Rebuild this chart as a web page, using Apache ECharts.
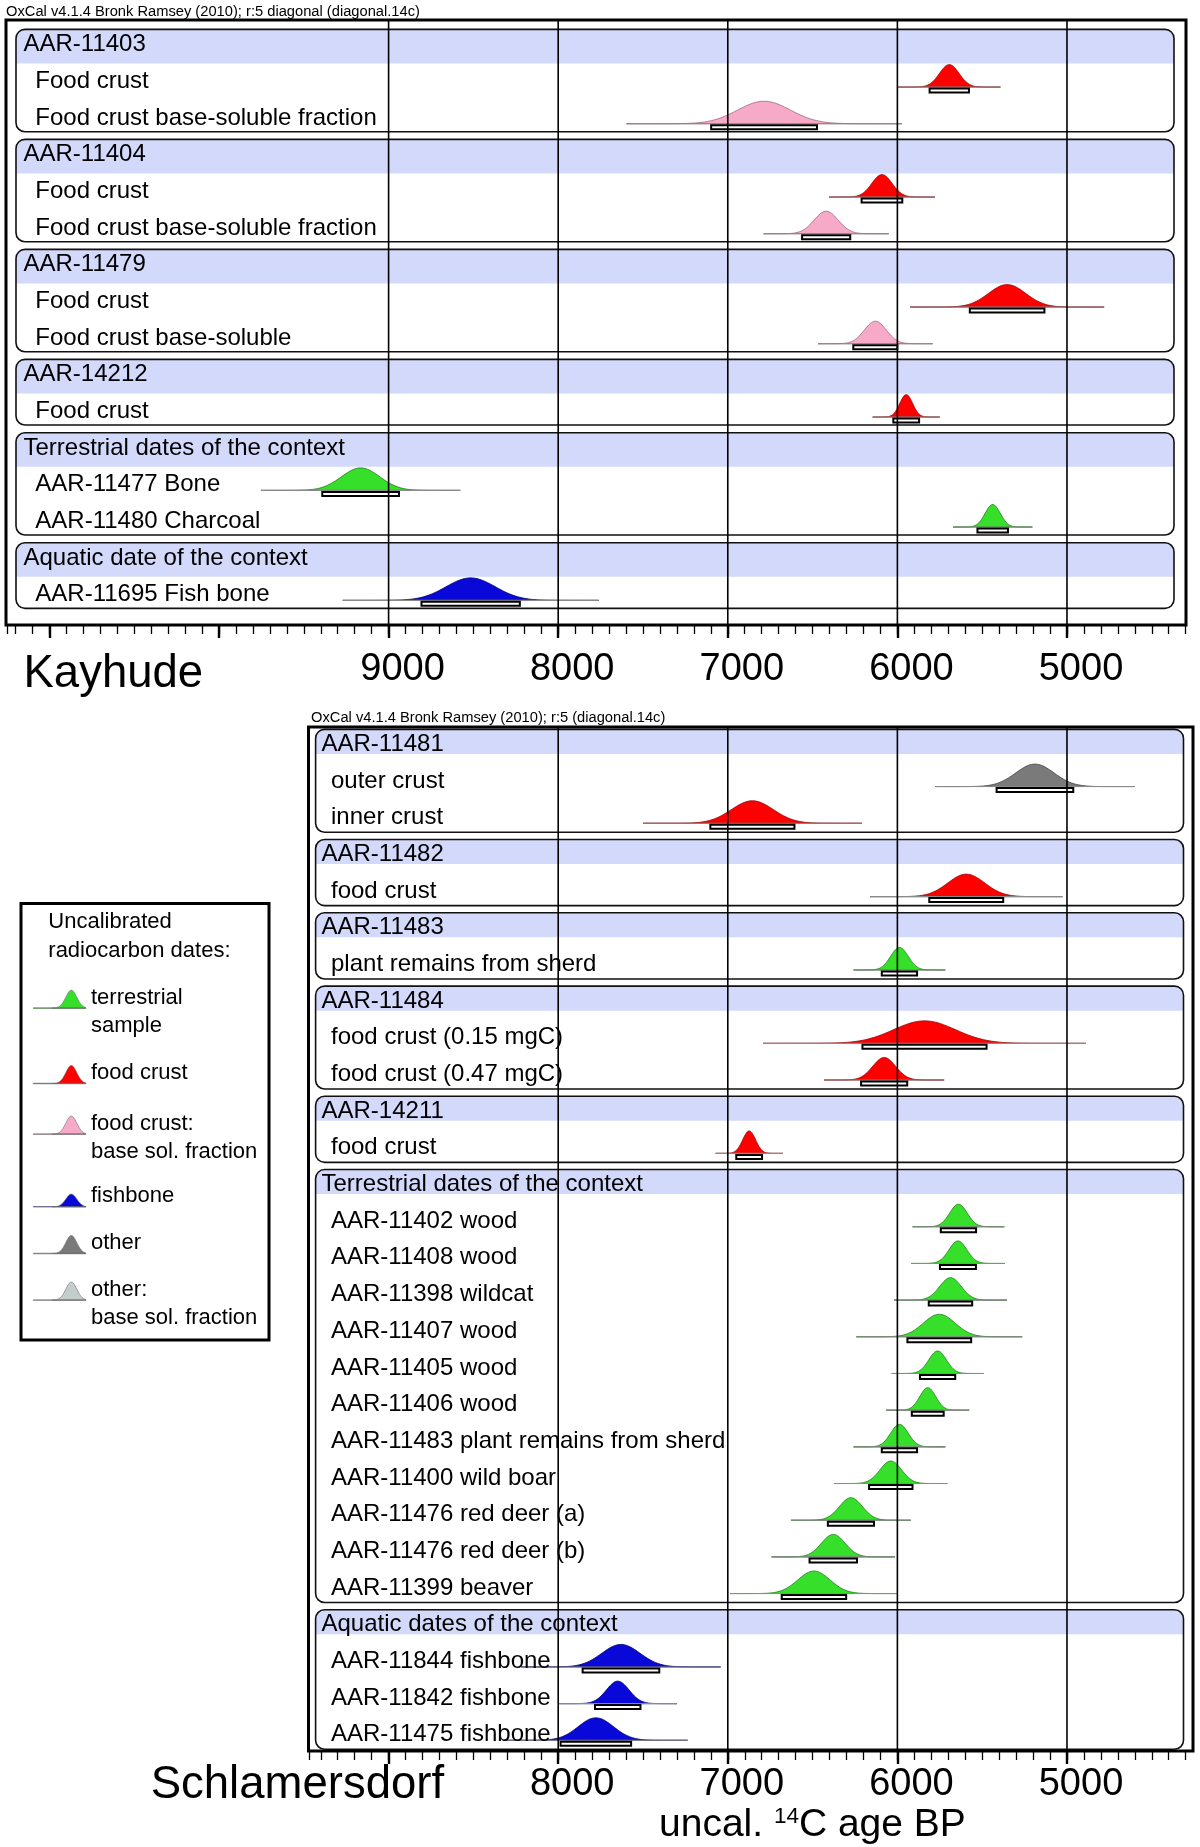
<!DOCTYPE html>
<html><head><meta charset="utf-8">
<script src="https://cdn.jsdelivr.net/npm/echarts@6/dist/echarts.min.js"></script>
<style>html,body{margin:0;padding:0;background:#fff}#c{width:1200px;height:1847px}</style>
</head><body><div id="c"></div>
<script>
// ---------- DATA ----------
const typeKeys = ['terrestrial', 'food crust', 'food crust: base sol.', 'fishbone', 'other', 'other: base sol.'];
const typeLegendText = ['terrestrial\nsample', 'food crust', 'food crust:\nbase sol. fraction', 'fishbone', 'other', 'other:\nbase sol. fraction'];

const topGroupTitles = ['AAR-11403', 'AAR-11404', 'AAR-11479', 'AAR-14212', 'Terrestrial dates of the context', 'Aquatic date of the context'];
const topItemLabels = [
  ['Food crust', 'Food crust base-soluble fraction'],
  ['Food crust', 'Food crust base-soluble fraction'],
  ['Food crust', 'Food crust base-soluble'],
  ['Food crust'],
  ['AAR-11477 Bone', 'AAR-11480 Charcoal'],
  ['AAR-11695 Fish bone']
];
const topItemTypes = [[1, 2], [1, 2], [1, 2], [1], [0, 0], [3]];
const topItemMeans = [[5694, 6786], [6091, 6420], [5353, 6130], [5948], [9165, 5438], [8516]];
const topItemSigmas = [[58, 156], [60, 71], [110, 65], [38], [113, 45], [145]];

const botGroupTitles = ['AAR-11481', 'AAR-11482', 'AAR-11483', 'AAR-11484', 'AAR-14211', 'Terrestrial dates of the context', 'Aquatic dates of the context'];
const botItemLabels = [
  ['outer crust', 'inner crust'],
  ['food crust'],
  ['plant remains from sherd'],
  ['food crust (0.15 mgC)', 'food crust (0.47 mgC)'],
  ['food crust'],
  ['AAR-11402 wood', 'AAR-11408 wood', 'AAR-11398 wildcat', 'AAR-11407 wood', 'AAR-11405 wood', 'AAR-11406 wood',
   'AAR-11483 plant remains from sherd', 'AAR-11400 wild boar', 'AAR-11476 red deer (a)', 'AAR-11476 red deer (b)', 'AAR-11399 beaver'],
  ['AAR-11844 fishbone', 'AAR-11842 fishbone', 'AAR-11475 fishbone']
];
const botItemTypes = [[4, 1], [1], [0], [1, 1], [1], [0, 0, 0, 0, 0, 0, 0, 0, 0, 0, 0], [3, 3, 3]];
const botItemMeans = [[5189, 6855], [5594], [5988], [5840, 6078], [6874],
  [5640, 5643, 5687, 5753, 5763, 5821, 5988, 6039, 6274, 6378, 6492], [7630, 7649, 7778]];
const botItemSigmas = [[113, 124], [109], [52], [183, 68], [38],
  [52, 53, 64, 94, 52, 47, 52, 64, 68, 70, 95], [113, 67, 104]];

const topGridYears = [9000, 8000, 7000, 6000, 5000];
const botGridYears = [8000, 7000, 6000, 5000];
const topLabelYears = [9000, 8000, 7000, 6000, 5000];
const botLabelYears = [8000, 7000, 6000, 5000];

// ---------- STYLE ----------
const FF = '"Liberation Sans", Arial, sans-serif';
const typeFill = ['#36e02a', '#ff0000', '#f7aac8', '#0808d8', '#7a7a7a', '#c4cccc'];
const typeEdge = ['#1c7a14', '#9a0000', '#9a6a80', '#00006a', '#404040', '#80888a'];
const legendPeak = [18, 18, 18, 12.7, 18, 18];
const BAND = '#d3d9fa';
const PEAK = 22.5, BASE_OFF = 8, SPAN = 5.2, TEXT_DY = 2.4;

function buildPanel(titles, labels, types, means, sigmas) {
  const rowText = [], rowHdr = [], spans = [], dates = typeKeys.map(() => []);
  titles.forEach((t, g) => {
    const s = rowText.length;
    rowText.push(t); rowHdr.push(1);
    labels[g].forEach((lab, i) => {
      const r = rowText.length;
      rowText.push(lab); rowHdr.push(0);
      dates[types[g][i]].push([means[g][i], sigmas[g][i], r]);
    });
    spans.push([s, rowText.length - 1]);
  });
  return { rowText, rowHdr, spans, dates };
}
const topP = buildPanel(topGroupTitles, topItemLabels, topItemTypes, topItemMeans, topItemSigmas);
const botP = buildPanel(botGroupTitles, botItemLabels, botItemTypes, botItemMeans, botItemSigmas);

function bandRender(cfg) {
  return function (params, api) {
    const cs = params.coordSys;
    const s = api.value(0), e = api.value(1);
    const yS = api.coord([6000, s])[1], yE = api.coord([6000, e])[1];
    const x0 = cs.x + cfg.inL, x1 = cs.x + cs.width - cfg.inR;
    const top = yS - cfg.boxTop, bot = yE + cfg.boxBot, bb = yS + cfg.bandBot;
    return { type: 'group', children: [
      { type: 'rect', shape: { x: x0, y: top, width: x1 - x0, height: bb - top, r: [9, 9, 0, 0] }, style: { fill: BAND } },
      { type: 'rect', shape: { x: x0, y: top, width: x1 - x0, height: bot - top, r: 9 }, style: { fill: 'none', stroke: '#111', lineWidth: 1.6 } }
    ] };
  };
}
function dateRender(t) {
  return function (params, api) {
    const m = api.value(0), s = api.value(1), r = api.value(2);
    const base = api.coord([m, r])[1] + BASE_OFF;
    const pts = [];
    for (let k = 0; k <= 120; k++) {
      const z = -SPAN + 2 * SPAN * k / 120;
      pts.push([api.coord([m + z * s, r])[0], base - PEAK * Math.exp(-z * z / 2)]);
    }
    const xa = api.coord([m + SPAN * s, r])[0], xb = api.coord([m - SPAN * s, r])[0];
    const b1 = api.coord([m + 2 * s, r])[0], b2 = api.coord([m - 2 * s, r])[0];
    return { type: 'group', children: [
      { type: 'polygon', shape: { points: pts }, style: { fill: typeFill[t], stroke: typeEdge[t], lineWidth: 0.8 } },
      { type: 'line', shape: { x1: xa, y1: base, x2: xb, y2: base }, style: { stroke: '#8a8a8a', lineWidth: 1.1 } },
      { type: 'rect', shape: { x: b1, y: base + 1.5, width: b2 - b1, height: 4 }, style: { fill: '#fff', stroke: '#000', lineWidth: 2 } }
    ] };
  };
}
function gridRender(params, api) {
  const cs = params.coordSys;
  const x = api.coord([api.value(0), 0])[0];
  return { type: 'line', shape: { x1: x, y1: cs.y, x2: x, y2: cs.y + cs.height }, style: { stroke: '#000', lineWidth: 1.6 } };
}
function textRender(P, hdrIn, itemIn) {
  return function (params, api) {
    const cs = params.coordSys;
    const i = params.dataIndex;
    const y = api.coord([6000, api.value(0)])[1] + TEXT_DY;
    return { type: 'text', style: { text: P.rowText[i], x: cs.x + (P.rowHdr[i] ? hdrIn : itemIn), y: y,
      fill: '#000', fontSize: 24, fontFamily: FF, verticalAlign: 'middle', align: 'left' } };
  };
}

// legend icon: a small Gaussian over a thin baseline, in a W x H box
function legendIconPath(t, H) {
  const W = 52.7, base = 24.9, px = 38, sp = 5.5, h = legendPeak[t];
  let d = `M0,0 M${W},${H} M0,${base - 0.3} L${W},${base - 0.3} L${W},${base + 0.3} L0,${base + 0.3} Z `;
  const pts = [];
  for (let k = 0; k <= 60; k++) {
    const z = -3.5 + 7 * k / 60;
    const x = px + z * sp;
    if (x > W) break;
    pts.push([x, base - h * Math.exp(-z * z / 2)]);
  }
  d += `M${pts[0][0].toFixed(2)},${base} ` + pts.map(p => `L${p[0].toFixed(2)},${p[1].toFixed(2)}`).join(' ') +
       ` L${pts[pts.length - 1][0].toFixed(2)},${base} Z`;
  return 'path://' + d;
}
const LH = 28.8;
const legendFirstLineY = [997.3, 1072.7, 1123.3, 1196, 1242.7, 1289.3];

// ---------- OPTION ----------
const minorTick = { show: true, length: 9, lineStyle: { color: '#000', width: 1.3 } };
const majorTick = { show: true, length: 13, lineStyle: { color: '#000', width: 2.4 } };

const series = [];
const panels = [
  { P: topP, ax: 0, band: { inL: 9, inR: 11.7, boxTop: 13, bandBot: 21, boxBot: 16 }, grid: topGridYears, hdr: 16.5, item: 28.3 },
  { P: botP, ax: 2, band: { inL: 6.7, inR: 2.2, boxTop: 12.5, bandBot: 12, boxBot: 17 }, grid: botGridYears, hdr: 12.6, item: 22.1 }
];
panels.forEach(pn => {
  series.push({ type: 'custom', xAxisIndex: pn.ax, yAxisIndex: pn.ax, z: 1, silent: true,
    data: pn.P.spans, renderItem: bandRender(pn.band) });
  pn.P.dates.forEach((arr, t) => {
    series.push({ type: 'custom', name: typeKeys[t], xAxisIndex: pn.ax, yAxisIndex: pn.ax, z: 2, silent: true,
      itemStyle: { color: typeFill[t] }, encode: { x: 0, y: 2 }, data: arr, renderItem: dateRender(t) });
  });
  series.push({ type: 'custom', xAxisIndex: pn.ax, yAxisIndex: pn.ax, z: 3, silent: true,
    encode: { x: 0 }, data: pn.grid.map(v => [v]), renderItem: gridRender });
  series.push({ type: 'custom', xAxisIndex: pn.ax, yAxisIndex: pn.ax, z: 4, silent: true,
    encode: { y: 0 }, data: pn.P.rowText.map((_, i) => [i]), renderItem: textRender(pn.P, pn.hdr, pn.item) });
});

const legends = typeKeys.map((k, t) => {
  const lines = typeLegendText[t].split('\n').length;
  const H = LH * lines;
  return {
    data: [{ name: k, icon: legendIconPath(t, H) }],
    left: 33, top: legendFirstLineY[t] - LH / 2, orient: 'vertical', padding: 0, itemGap: 0,
    itemWidth: 52.7, itemHeight: H, selectedMode: false,
    formatter: () => typeLegendText[t],
    itemStyle: { borderColor: '#6a6a6a', borderWidth: 0.6 },
    textStyle: { fontSize: 22, fontFamily: FF, color: '#000', lineHeight: LH }
  };
});

const labelStyle = (years, margin) => ({
  show: true, fontSize: 38, fontFamily: FF, color: '#000', margin: margin, padding: [0, 0, 0, 28],
  formatter: v => (years.indexOf(v) >= 0 ? String(v) : '')
});
const noLine = { show: false, onZero: false };

const option = {
  animation: false,
  backgroundColor: '#fff',
  grid: [
    { left: 7.0, width: 1178.7, top: 20, height: 605 },
    { left: 49.4, width: 1017.6, top: 600, height: 25 },
    { left: 308.9, width: 876.8, top: 727, height: 1024 },
    { left: 388.6, width: 678.4, top: 1700, height: 51 }
  ],
  xAxis: [
    { gridIndex: 0, type: 'value', position: 'bottom', inverse: true, min: 4300, max: 11250, interval: 100,
      axisLine: noLine, axisTick: minorTick, axisLabel: { show: false }, splitLine: { show: false } },
    { gridIndex: 1, type: 'value', position: 'bottom', inverse: true, min: 5000, max: 11000, interval: 1000,
      axisLine: noLine, axisTick: majorTick, axisLabel: labelStyle(topLabelYears, 26), splitLine: { show: false } },
    { gridIndex: 2, type: 'value', position: 'bottom', inverse: true, min: 4300, max: 9470, interval: 100,
      axisLine: noLine, axisTick: minorTick, axisLabel: { show: false }, splitLine: { show: false } },
    { gridIndex: 3, type: 'value', position: 'bottom', inverse: true, min: 5000, max: 9000, interval: 1000,
      axisLine: noLine, axisTick: majorTick, axisLabel: labelStyle(botLabelYears, 15), splitLine: { show: false } }
  ],
  yAxis: [
    { gridIndex: 0, type: 'value', inverse: true, min: -0.611, max: 15.89, show: false, axisLine: noLine },
    { gridIndex: 1, type: 'value', min: 0, max: 1, show: false, axisLine: noLine },
    { gridIndex: 2, type: 'value', inverse: true, min: -0.406, max: 27.51, show: false, axisLine: noLine },
    { gridIndex: 3, type: 'value', min: 0, max: 1, show: false, axisLine: noLine }
  ],
  legend: legends,
  series: series,
  graphic: [
    { type: 'rect', z: 10, shape: { x: 6, y: 20, width: 1180, height: 605 }, style: { fill: 'none', stroke: '#000', lineWidth: 3 } },
    { type: 'rect', z: 10, shape: { x: 308.5, y: 727, width: 884.5, height: 1024 }, style: { fill: 'none', stroke: '#000', lineWidth: 3 } },
    { type: 'rect', z: 10, shape: { x: 21, y: 903.5, width: 248, height: 436.5 }, style: { fill: 'none', stroke: '#000', lineWidth: 3 } },
    { type: 'text', z: 10, style: { text: 'OxCal v4.1.4 Bronk Ramsey (2010); r:5 diagonal (diagonal.14c)', x: 6, y: 12, fontSize: 14.7, fontFamily: FF, fill: '#000', verticalAlign: 'middle' } },
    { type: 'text', z: 10, style: { text: 'OxCal v4.1.4 Bronk Ramsey (2010); r:5 (diagonal.14c)', x: 311, y: 717.5, fontSize: 14.7, fontFamily: FF, fill: '#000', verticalAlign: 'middle' } },
    { type: 'text', z: 10, style: { text: 'Kayhude', x: 23.5, y: 674.5, fontSize: 45.5, fontFamily: FF, fill: '#000', verticalAlign: 'middle' } },
    { type: 'text', z: 10, style: { text: 'Schlamersdorf', x: 150.7, y: 1785, fontSize: 45.5, fontFamily: FF, fill: '#000', verticalAlign: 'middle' } },
    { type: 'text', z: 10, style: { text: '{a|uncal. }{s|14}{a|C age BP}', x: 659, y: 1825, verticalAlign: 'middle',
      rich: { a: { fontSize: 39, fontFamily: FF, fill: '#000', lineHeight: 40 }, s: { fontSize: 22.5, fontFamily: FF, fill: '#000', verticalAlign: 'top' } } } },
    { type: 'text', z: 10, style: { text: 'Uncalibrated\nradiocarbon dates:', x: 48.3, y: 922.3 - 14.4, fontSize: 22, lineHeight: 28.8, fontFamily: FF, fill: '#000', verticalAlign: 'top' } }
  ]
};

const chart = echarts.init(document.getElementById('c'), null, { renderer: 'canvas' });
chart.setOption(option);
</script>
</body></html>
